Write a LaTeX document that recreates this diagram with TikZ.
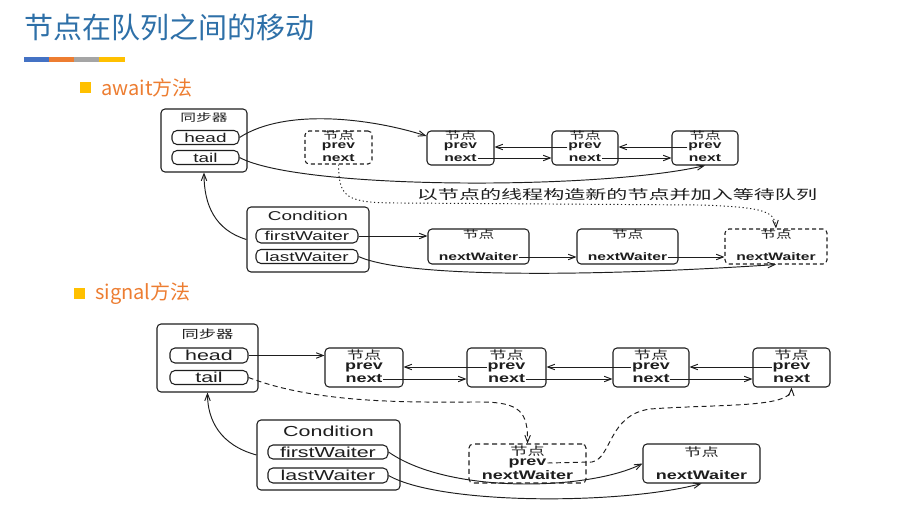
\documentclass[tikz,border=0pt]{standalone}
\usepackage{fontspec}
\usetikzlibrary{arrows.meta}
\setmainfont{Liberation Sans}
\newfontfamily\cjkfont{Noto Sans CJK SC}
\newfontfamily\cjkwide[FakeStretch=1.5]{Noto Sans CJK SC}
\newfontfamily\cjklabel[FakeStretch=1.62]{Noto Sans CJK SC}
\newfontfamily\latwide[FakeStretch=1.48]{Liberation Sans}
\newfontfamily\boldwide[FakeStretch=1.45]{Liberation Sans}

\definecolor{titleblue}{RGB}{46,112,168}
\definecolor{accorange}{RGB}{237,125,49}
\definecolor{accblue}{RGB}{68,114,196}
\definecolor{accgray}{RGB}{165,165,165}
\definecolor{accyellow}{RGB}{255,192,0}
\definecolor{ink}{RGB}{30,30,30}

\tikzset{
  sz/.style 2 args={minimum width=#1pt, minimum height=#2pt},
  frame/.style={draw=ink, line width=1.05pt, rounded corners=4pt, inner sep=0pt},
  dframe/.style={frame, dash pattern=on 4pt off 3pt},
  pill/.style={draw=ink, line width=1.05pt, rounded corners=5pt, inner sep=0pt, text=ink},
  lbl/.style={inner sep=0.8pt, text=ink},
  % text styles: upper diagram
  tA/.style={font={\fontsize{12.8}{14}\latwide}},
  bA/.style={lbl, font={\fontsize{10.8}{12}\boldwide\bfseries}},
  cA/.style={lbl, font={\fontsize{10.5}{12}\cjkwide}},
  % text styles: lower diagram
  tB/.style={font={\fontsize{14.5}{16}\latwide}},
  bB/.style={lbl, font={\fontsize{12.4}{14}\boldwide\bfseries}},
  cB/.style={lbl, font={\fontsize{11.5}{13}\cjkwide}},
  link/.style={draw=ink, line width=0.95pt, -{Straight Barb[length=7pt,width=5.5pt]}},
  dotlink/.style={link, dash pattern=on 1.2pt off 2.6pt},
  dashlink/.style={link, dash pattern=on 5pt off 3.5pt},
}

\begin{document}
\begin{tikzpicture}[x=1pt,y=-1pt]
\useasboundingbox (0,0) rectangle (905,524);
\fill[white] (0,0) rectangle (905,524);

% heading
\node[anchor=west, inner sep=0pt, text=titleblue, font={\fontsize{29}{32}\cjkfont}] (title) at (24,27) {节点在队列之间的移动};
\fill[accblue]   (24,57) rectangle (49,62);
\fill[accorange] (49,57) rectangle (74,62);
\fill[accgray]   (74,57) rectangle (99,62);
\fill[accyellow] (99,57) rectangle (125,62);

% section bullets
\fill[accyellow] (80,82) rectangle (91,93);
\node[anchor=west, inner sep=0pt, text=accorange, font={\fontsize{20}{22}\cjkfont}] (secA) at (101,88) {await方法};
\fill[accyellow] (74,288) rectangle (85,299);
\node[anchor=west, inner sep=0pt, text=accorange, font={\fontsize{20}{22}\cjkfont}] (secB) at (95,294) {signal方法};

% ---------------- await ----------------
\node[frame, sz={86}{63}] (s1) at (204,140.5) {};
\node[cA] (s1t) at (204,118) {同步器};
\node[pill, sz={67}{14}, tA] (head1) at (205.5,137.5) {head};
\node[pill, sz={67}{14}, tA] (tail1) at (205.5,157.5) {tail};

\node[dframe, sz={67}{33}] (n1) at (338.5,147.5) {};
\node[cA] (n1t) at (338.5,136) {节点};
\node[bA] (n1p) at (338.5,147) {prev};
\node[bA] (n1n) at (338.5,158) {next};

\node[frame, sz={67}{34}] (n2) at (460.5,148) {};
\node[cA] (n2t) at (460.5,136) {节点};
\node[bA] (n2p) at (460.5,147) {prev};
\node[bA] (n2n) at (460.5,158) {next};

\node[frame, sz={66}{34}] (n3) at (585,148) {};
\node[cA] (n3t) at (585,136) {节点};
\node[bA] (n3p) at (585,147) {prev};
\node[bA] (n3n) at (585,158) {next};

\node[frame, sz={66}{34}] (n4) at (705,148) {};
\node[cA] (n4t) at (705,136) {节点};
\node[bA] (n4p) at (705,147) {prev};
\node[bA] (n4n) at (705,158) {next};

\node[lbl, font={\fontsize{13}{15}\cjklabel}] (note) at (617,194.5) {以节点的线程构造新的节点并加入等待队列};

\node[frame, sz={122}{65}] (c1) at (308,239.5) {};
\node[lbl, tA] (c1t) at (308,216) {Condition};
\node[pill, sz={102}{14}, tA] (fw1) at (307,236) {firstWaiter};
\node[pill, sz={102}{14}, tA] (lw1) at (307,256.5) {lastWaiter};

\node[frame, sz={101}{35}] (w1) at (478.5,246.5) {};
\node[cA] (w1t) at (478.5,235) {节点};
\node[bA] (w1n) at (478.5,257) {nextWaiter};

\node[frame, sz={101}{35}] (w2) at (627.5,246.5) {};
\node[cA] (w2t) at (627.5,235) {节点};
\node[bA] (w2n) at (627.5,257) {nextWaiter};

\node[dframe, sz={102}{35}] (w3) at (776,246.5) {};
\node[cA] (w3t) at (776,235) {节点};
\node[bA] (w3n) at (776,257) {nextWaiter};

% await connectors
\draw[link] (head1.east) .. controls (285,108) and (370,118) .. (n2.west |- n2t);
\draw[link] (tail1.east) .. controls (300,190) and (600,190) .. (n4.south);
\draw[link] (n3p.west) -- (n2.east |- n3p);
\draw[link] (n2n.east) -- (n3.west |- n2n);
\draw[link] (n4p.west) -- (n3.east |- n4p);
\draw[link] (n3n.east) -- (n4.west |- n3n);
\draw[dotlink] (n1.south) .. controls (339,198) and (346,203) .. (400,203) -- (700,205) .. controls (765,207) and (775,212) .. (w3.north);
\draw[link] (c1.west) .. controls (215,230) and (204,205) .. (s1.south);
\draw[link] (fw1.east) -- (w1.west |- fw1);
\draw[link] (w1n.east) -- (w2.west |- w1n);
\draw[link] (w2n.east) -- (w3.west |- w2n);
\draw[link] (lw1.east) .. controls (410,280) and (620,275) .. (w3.south);

% ---------------- signal ----------------
\node[frame, sz={101}{68}] (s2) at (207.5,358) {};
\node[cB] (s2t) at (207.5,334) {同步器};
\node[pill, sz={78}{15}, tB] (head2) at (209,355.5) {head};
\node[pill, sz={78}{14}, tB] (tail2) at (209,377.5) {tail};

\node[frame, sz={78}{39}] (na) at (364,367.5) {};
\node[cB] (nat) at (364,355) {节点};
\node[bB] (nap) at (364,367) {prev};
\node[bB] (nan) at (364,379) {next};

\node[frame, sz={79}{39}] (nb) at (506.5,367.5) {};
\node[cB] (nbt) at (506.5,355) {节点};
\node[bB] (nbp) at (506.5,367) {prev};
\node[bB] (nbn) at (506.5,379) {next};

\node[frame, sz={76}{39}] (nc) at (651,367.5) {};
\node[cB] (nct) at (651,355) {节点};
\node[bB] (ncp) at (651,367) {prev};
\node[bB] (ncn) at (651,379) {next};

\node[frame, sz={77}{39}] (nd) at (791.5,367.5) {};
\node[cB] (ndt) at (791.5,355) {节点};
\node[bB] (ndp) at (791.5,367) {prev};
\node[bB] (ndn) at (791.5,379) {next};

\node[frame, sz={143}{70}] (c2) at (328.5,455) {};
\node[lbl, tB] (c2t) at (328.5,431) {Condition};
\node[pill, sz={120}{14}, tB] (fw2) at (328,452) {firstWaiter};
\node[pill, sz={120}{15}, tB] (lw2) at (328,475.5) {lastWaiter};

\node[frame, dash pattern=on 5pt off 3.5pt, sz={117}{39}] (ne) at (527.5,463.5) {};
\node[cB] (net) at (527.5,451) {节点};
\node[bB] (nep) at (527.5,463) {prev};
\node[bB] (nen) at (527.5,475) {nextWaiter};

\node[frame, sz={117}{39}] (nf) at (701.5,463.5) {};
\node[cB] (nft) at (701.5,452) {节点};
\node[bB] (nfn) at (701.5,475) {nextWaiter};

% signal connectors
\draw[link] (head2.east) -- (na.west |- head2);
\draw[link] (nbp.west) -- (na.east |- nbp);
\draw[link] (nan.east) -- (nb.west |- nan);
\draw[link] (ncp.west) -- (nb.east |- ncp);
\draw[link] (nbn.east) -- (nc.west |- nbn);
\draw[link] (ndp.west) -- (nc.east |- ndp);
\draw[link] (ncn.east) -- (nd.west |- ncn);
\draw[dashlink] (tail2.east) .. controls (320,405) and (420,402) .. (480,402) .. controls (520,402) and (528,412) .. (ne.north);
\draw[dashlink] (nep.east) -- (592,462) .. controls (612,458) and (608,415) .. (650,409) .. controls (720,404) and (791,408) .. (nd.south);
\draw[link] (c2.west) .. controls (220,445) and (207.5,420) .. (s2.south);
\draw[link] (fw2.east) .. controls (450,495) and (590,490) .. (nf.west);
\draw[link] (lw2.east) .. controls (440,505) and (620,505) .. (nf.south);
\end{tikzpicture}
\end{document}
